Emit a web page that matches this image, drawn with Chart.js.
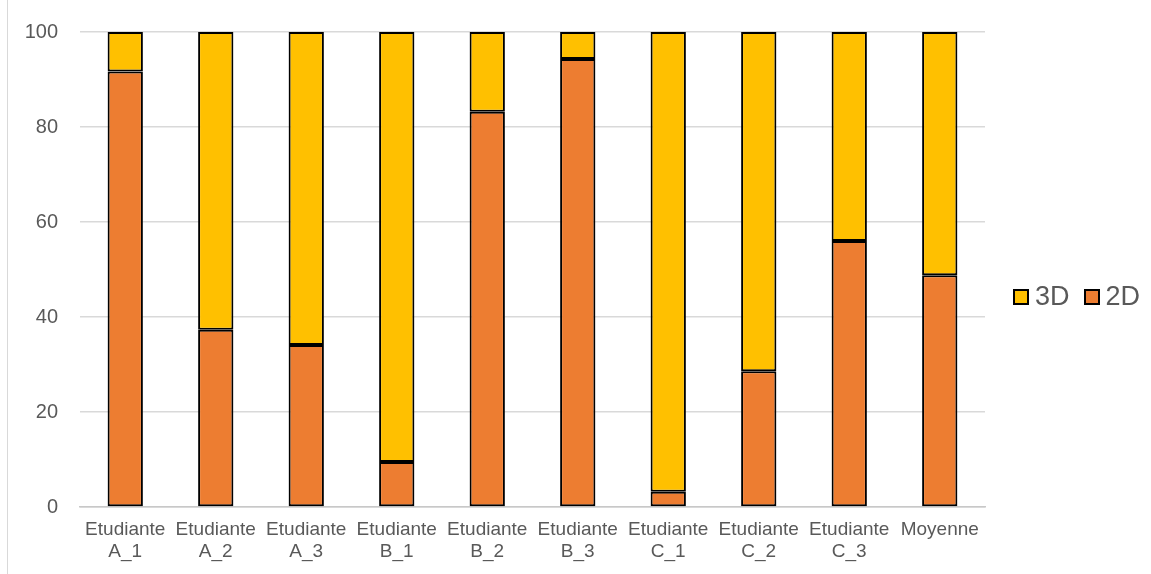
<!DOCTYPE html>
<html>
<head>
<meta charset="utf-8">
<script src="https://cdn.jsdelivr.net/npm/chart.js@4/dist/chart.umd.min.js"></script>
<style>
  html, body { margin: 0; padding: 0; background: #fff; }
  #wrap { position: relative; width: 1151px; height: 574px; }
  #frame { position: absolute; left: 7px; top: 0; bottom: 0; border-left: 1px solid #d9d9d9; }
  #legend { position: absolute; left: 1013px; top: 281px; display: flex; gap: 14px;
    font-family: "Liberation Sans", Arial, sans-serif; font-size: 27px; color: #595959; }
  .legend-item { display: flex; align-items: center; }
  .swatch { width: 16px; height: 16px; border: 2px solid #000; margin-right: 6px; box-sizing: border-box; }
</style>
</head>
<body>
<div id="wrap">
  <div id="frame"></div>
  <canvas id="barChart" width="1151" height="574"></canvas>
  <div id="legend"></div>
</div>
<script>
// Data
const categories = [
  ['Etudiante', 'A_1'], ['Etudiante', 'A_2'], ['Etudiante', 'A_3'],
  ['Etudiante', 'B_1'], ['Etudiante', 'B_2'], ['Etudiante', 'B_3'],
  ['Etudiante', 'C_1'], ['Etudiante', 'C_2'], ['Etudiante', 'C_3'],
  'Moyenne'
];
const values2D = [91.7, 37.3, 34.1, 9.5, 83.2, 94.3, 3.2, 28.6, 56.0, 48.8];
const values3D = [8.3, 62.7, 65.9, 90.5, 16.8, 5.7, 96.8, 71.4, 44.0, 51.2];
const yTicks = [0, 20, 40, 60, 80, 100];

const colors = {
  '2D': '#ed7d31',
  '3D': '#ffc000'
};

document.addEventListener('DOMContentLoaded', function() {
  const ctx = document.getElementById('barChart');
  const chart = new Chart(ctx, {
    type: 'bar',
    data: {
      labels: categories,
      datasets: [
        {
          label: '2D',
          data: values2D,
          backgroundColor: colors['2D'],
          borderColor: '#000',
          borderWidth: 2,
          borderSkipped: false,
          categoryPercentage: 1,
          barPercentage: 0.39
        },
        {
          label: '3D',
          data: values3D,
          backgroundColor: colors['3D'],
          borderColor: '#000',
          borderWidth: 2,
          borderSkipped: false,
          categoryPercentage: 1,
          barPercentage: 0.39
        }
      ]
    },
    options: {
      responsive: false,
      animation: false,
      layout: { padding: { top: 32, right: 166, left: 0, bottom: 0 } },
      plugins: {
        legend: { display: false },
        tooltip: { enabled: false }
      },
      scales: {
        x: {
          stacked: true,
          grid: { display: false },
          border: { color: '#c8c8c8', width: 1.5 },
          ticks: {
            color: '#595959',
            font: { family: 'Liberation Sans', size: 19 },
            maxRotation: 0,
            autoSkip: false,
            padding: 3
          },
          afterFit: function(scale) { scale.height = 67; }
        },
        y: {
          stacked: true,
          min: 0,
          max: 100,
          afterBuildTicks: function(scale) {
            scale.ticks = yTicks.map(v => ({ value: v }));
          },
          grid: { color: '#d9d9d9', lineWidth: 1.5, drawTicks: false },
          border: { display: false },
          ticks: {
            color: '#595959',
            font: { family: 'Liberation Sans', size: 20 },
            padding: 22
          },
          afterFit: function(scale) {
            scale.width = 80;
            scale.paddingTop = 0;
            scale.paddingBottom = 0;
          }
        }
      }
    }
  });

  // Legend, 3D listed first as in the reference
  const legendContainer = document.getElementById('legend');
  legendContainer.innerHTML = chart.data.datasets.slice().reverse().map(ds => `
    <div class="legend-item">
      <span class="swatch" style="background: ${ds.backgroundColor};"></span>
      <span>${ds.label}</span>
    </div>
  `).join('');
});
</script>
</body>
</html>
